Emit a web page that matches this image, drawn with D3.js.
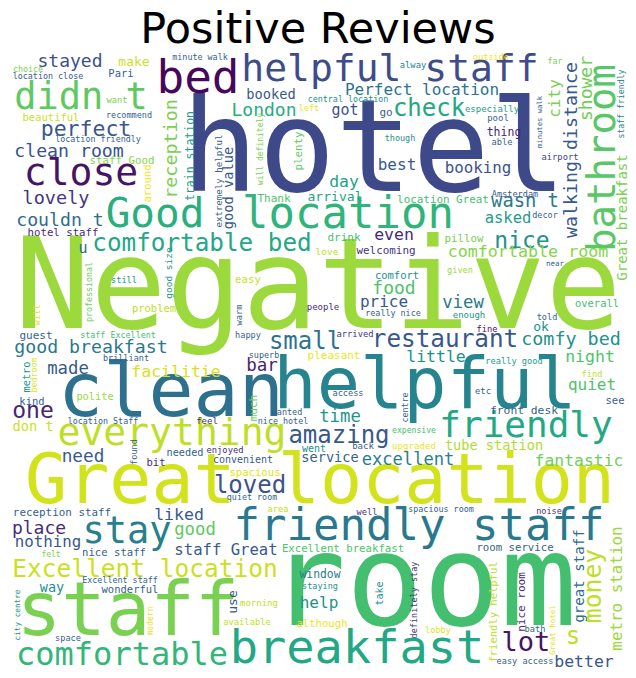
<!DOCTYPE html>
<html>
<head>
<meta charset="utf-8">
<script src="https://cdn.jsdelivr.net/npm/d3@7"></script>
<style>
  body { margin: 0; background: #fff; }
</style>
</head>
<body>
<div id="chart"></div>
<script>
// Word cloud layout: [word, weight, tone, x, y] in cloud units (620 x 620 canvas)
// horizontal words: x = centre, y = baseline
const bigWords = [
  ["Negative", 126, 0.85, 310, 276],
  ["hotel", 128, 0.22, 366, 139],
  ["room", 128, 0.70, 415, 573],
  ["Great location", 70, 0.93, 312, 451],
  ["helpful", 72, 0.45, 417, 356],
  ["clean", 75, 0.37, 163, 364],
  ["staff", 74, 0.80, 120, 583],
  ["friendly staff", 44, 0.40, 411, 488],
  ["breakfast", 47, 0.60, 349, 611],
  ["comfortable", 32, 0.66, 114, 613],
  ["Good", 41, 0.63, 147, 175],
  ["location", 44, 0.65, 340, 176],
  ["helpful staff", 38, 0.23, 382, 29],
  ["bed", 46, 0.02, 190, 41],
  ["didn t", 37, 0.75, 73, 57],
  ["close", 38, 0.05, 73, 133],
  ["everything", 38, 0.90, 164, 393],
  ["friendly", 36, 0.60, 518, 385],
  ["stay", 37, 0.43, 119, 491]
];

const midWords = [
  ["Excellent location", 24.5, 0.92, 137, 525],
  ["comfortable bed", 24.3, 0.60, 194, 199],
  ["amazing", 24, 0.27, 331, 391],
  ["small", 24, 0.38, 297, 297],
  ["restaurant", 24.3, 0.27, 437, 295],
  ["loved", 24, 0.25, 242, 441],
  ["check", 24, 0.60, 421, 64],
  ["nice", 23, 0.50, 514, 196],
  ["one", 23, 0.10, 25, 366],
  ["lot", 27, 0.05, 518, 599],
  ["s", 24, 0.90, 565, 592],
  ["perfect", 21.5, 0.27, 78, 84],
  ["wasn t", 18.8, 0.40, 517, 155],
  ["stayed", 18, 0.25, 62, 15],
  ["clean room", 18.2, 0.25, 61, 105],
  ["lovely", 18.5, 0.15, 48, 152],
  ["couldn t", 18.2, 0.35, 52, 174],
  ["good breakfast", 18.2, 0.40, 83, 301],
  ["comfy bed", 18.4, 0.50, 563, 293],
  ["London", 18, 0.62, 256, 64],
  ["food", 18, 0.72, 386, 242],
  ["place", 18, 0.12, 31, 482],
  ["made", 17.3, 0.28, 60, 322],
  ["need", 17.7, 0.28, 75, 410],
  ["view", 17.3, 0.40, 455, 256],
  ["time", 17.3, 0.52, 332, 370],
  ["bar", 17.5, 0.10, 254, 319],
  ["good", 17.3, 0.75, 187, 483],
  ["excellent", 17.1, 0.42, 400, 413],
  ["facilitie", 16.5, 0.94, 168, 325],
  ["Perfect location", 16, 0.38, 414, 43],
  ["comfortable room", 16.7, 0.82, 520, 205],
  ["little", 16.5, 0.50, 428, 310],
  ["night", 16.5, 0.72, 582, 310],
  ["quiet", 16, 0.72, 584, 338],
  ["fantastic", 16.4, 0.78, 571, 414],
  ["price", 16, 0.27, 376, 255],
  ["best", 16, 0.28, 389, 118],
  ["nothing", 15.8, 0.27, 40, 495],
  ["booking", 15.8, 0.25, 470, 121],
  ["liked", 16.5, 0.28, 171, 468],
  ["staff Great", 15.6, 0.28, 218, 503],
  ["help", 16, 0.50, 311, 556],
  ["better", 16.5, 0.27, 576, 615],
  ["day", 16.4, 0.58, 336, 135],
  ["even", 16.5, 0.12, 386, 188],
  ["asked", 15.5, 0.55, 500, 171],
  ["got", 15, 0.25, 337, 63],
  ["u", 15, 0.35, 75, 201]
];

const smallWords = [
  ["booked", 13.7, 0.28, 263, 47],
  ["don t", 13.7, 0.92, 25, 379],
  ["way", 13.5, 0.50, 44, 540],
  ["service", 13.6, 0.30, 322, 410],
  ["tube station", 13.6, 0.88, 486, 398],
  ["arrival", 13.1, 0.60, 327, 149],
  ["make", 13, 0.92, 126, 14],
  ["ok", 13, 0.50, 533, 279],
  ["thing", 11.5, 0.12, 496, 84],
  ["front desk", 11.3, 0.30, 516, 362],
  ["Thank", 11, 0.72, 266, 150],
  ["drink", 11, 0.70, 336, 189],
  ["pillow", 10.8, 0.80, 456, 190],
  ["welcoming", 10.9, 0.15, 378, 202],
  ["location Great", 10.9, 0.70, 435, 151],
  ["guest", 11, 0.30, 28, 287],
  ["pleasant", 11, 0.97, 326, 307],
  ["reception staff", 10.9, 0.30, 54, 464],
  ["window", 11.4, 0.42, 312, 526],
  ["Excellent breakfast", 10.7, 0.72, 335, 500],
  ["room service", 10.7, 0.30, 507, 499],
  ["nice staff", 10.6, 0.30, 106, 504],
  ["wonderful", 10.5, 0.30, 122, 541],
  ["spacious", 10.6, 0.95, 247, 424],
  ["although", 10.6, 0.97, 314, 575],
  ["beautiful", 10.5, 0.92, 43, 69],
  ["staff Good", 10.8, 0.82, 114, 112],
  ["hotel staff", 10.7, 0.12, 55, 184],
  ["Pari", 10.5, 0.30, 113, 25],
  ["problem", 10.5, 0.90, 146, 260],
  ["polite", 10.3, 0.85, 87, 348],
  ["kind", 10.5, 0.30, 24, 353],
  ["easy", 10.8, 0.92, 240, 231],
  ["comfort", 10.5, 0.50, 389, 227],
  ["overall", 10.5, 0.70, 589, 255],
  ["convenient", 10, 0.28, 235, 411],
  ["needed", 10.2, 0.30, 177, 404],
  ["bit", 10.5, 0.12, 148, 414],
  ["went", 10, 0.50, 306, 400],
  ["see", 10.5, 0.30, 607, 352],
  ["go", 11, 0.30, 378, 64],
  ["minute walk", 8.4, 0.30, 192, 8],
  ["choice", 8.4, 0.80, 20, 20],
  ["location close", 8.4, 0.28, 40, 27],
  ["want", 8.7, 0.80, 109, 51],
  ["recommend", 8.5, 0.30, 121, 66],
  ["location friendly", 8.4, 0.30, 90, 90],
  ["alway", 8.8, 0.45, 405, 16],
  ["outside", 8.5, 0.98, 483, 8],
  ["far", 8.2, 0.80, 547, 12],
  ["central location", 8.4, 0.50, 340, 50],
  ["left", 8.5, 0.97, 301, 59],
  ["especially", 9, 0.55, 484, 60],
  ["pool", 9, 0.30, 490, 69],
  ["able", 8.7, 0.30, 494, 93],
  ["though", 8.5, 0.50, 392, 89],
  ["airport", 8.8, 0.18, 552, 108],
  ["Amsterdam", 8.6, 0.30, 507, 145],
  ["decor", 8.5, 0.30, 537, 166],
  ["love", 9.5, 0.90, 319, 203],
  ["still", 8.6, 0.50, 116, 231],
  ["staff Excellent", 8.4, 0.70, 110, 286],
  ["brilliant", 8.5, 0.30, 118, 309],
  ["location Staff", 8.4, 0.30, 95, 372],
  ["feel", 9, 0.15, 199, 372],
  ["people", 9, 0.12, 315, 258],
  ["really nice", 8.4, 0.30, 385, 264],
  ["happy", 8.6, 0.30, 240, 286],
  ["arrived", 8.8, 0.15, 347, 285],
  ["superb", 8.5, 0.30, 256, 306],
  ["given", 8.6, 0.85, 452, 221],
  ["near", 7.5, 0.30, 547, 214],
  ["enough", 9, 0.50, 461, 266],
  ["told", 8.6, 0.35, 539, 268],
  ["fine", 8.7, 0.05, 479, 280],
  ["really good", 8.7, 0.55, 506, 312],
  ["find", 8.7, 0.90, 584, 325],
  ["etc", 8.8, 0.30, 475, 342],
  ["access", 8.6, 0.30, 340, 344],
  ["wanted", 8.5, 0.30, 279, 363],
  ["nice hotel", 8.4, 0.30, 275, 372],
  ["expensive", 8.1, 0.70, 406, 381],
  ["back", 9, 0.30, 355, 397],
  ["upgraded", 9.1, 0.97, 406, 397],
  ["enjoyed", 8.8, 0.12, 217, 401],
  ["quiet room", 8.4, 0.30, 244, 448],
  ["area", 8.7, 0.90, 270, 460],
  ["well", 8.7, 0.15, 359, 463],
  ["spacious room", 8.4, 0.30, 433, 460],
  ["noise", 8.5, 0.15, 541, 462],
  ["felt", 8, 0.80, 43, 505],
  ["Excellent staff", 8.4, 0.30, 112, 531],
  ["staying", 8.5, 0.50, 312, 537],
  ["morning", 9, 0.90, 251, 554],
  ["space", 8.6, 0.30, 60, 589],
  ["available", 8.8, 0.90, 239, 573],
  ["lobby", 8.6, 0.95, 430, 581],
  ["bath", 8.7, 0.30, 527, 580],
  ["easy access", 8.6, 0.30, 517, 612]
];

// vertical words (read bottom to top): x = baseline, y = centre
const sideWords = [
  ["bathroom", 39, 0.74, 607, 106],
  ["walking distance", 18.3, 0.28, 569, 98],
  ["reception", 18.4, 0.80, 169, 97],
  ["shower", 18, 0.78, 584, 36.5],
  ["city", 16, 0.80, 552, 46.5],
  ["train station", 11.5, 0.55, 186, 104],
  ["around", 10.5, 0.98, 143, 131.5],
  ["Great breakfast", 14, 0.80, 619, 165.5],
  ["staff friendly", 8.2, 0.45, 616, 52],
  ["minutes walk", 7.2, 0.30, 534, 70],
  ["extremely helpful", 9.1, 0.30, 214, 129],
  ["good value", 13.7, 0.27, 225, 136],
  ["plenty", 10.8, 0.75, 294, 99],
  ["will definitely", 8, 0.80, 255, 97],
  ["professional", 8.3, 0.78, 84, 240],
  ["good size", 9.5, 0.50, 164, 221],
  ["will", 8.7, 0.95, 32, 263],
  ["metro", 10.3, 0.55, 22, 325],
  ["bedroom", 8.3, 0.95, 29, 323],
  ["warm", 8.7, 0.30, 234, 263],
  ["centre", 8.3, 0.30, 400, 355.5],
  ["much", 11, 0.78, 249, 356],
  ["found", 8.6, 0.30, 129, 400],
  ["city centre", 7.7, 0.50, 12, 563],
  ["modern", 8, 0.95, 145, 569],
  ["use", 13, 0.28, 229, 550],
  ["take", 10, 0.50, 375, 541.5],
  ["definitely stay", 8.5, 0.15, 409, 548],
  ["great staff", 14.1, 0.35, 576, 524],
  ["money", 24.7, 0.90, 593, 534],
  ["metro station", 15.9, 0.85, 614, 536.5],
  ["friendly helpful", 10.5, 0.90, 489, 560],
  ["nice room", 11, 0.12, 517, 550],
  ["Great hotel", 7.5, 0.95, 547, 578]
];

const title = "Positive Reviews";

const width = 636, height = 678;

const svg = d3.select("#chart").append("svg")
  .attr("width", width)
  .attr("height", height)
  .style("display", "block");

svg.append("rect")
  .attr("width", width)
  .attr("height", height)
  .attr("fill", "#fff");

svg.append("text")
  .attr("x", width / 2)
  .attr("y", 43)
  .attr("text-anchor", "middle")
  .style("font-family", "'DejaVu Sans', sans-serif")
  .style("font-size", "43px")
  .style("fill", "#000")
  .text(title);

// cloud canvas -> page
const x = d3.scaleLinear().domain([0, 620]).range([8, 628]);
const y = d3.scaleLinear().domain([0, 620]).range([52, 672]);
const fontSize = d3.scaleLinear().domain([0, 620]).range([0, 620]);
const colour = d3.scaleSequential(d3.interpolateViridis).domain([0, 1]);

const cloud = svg.append("g")
  .style("font-family", "'DejaVu Sans Mono', monospace");

const flat = bigWords.concat(midWords, smallWords);

cloud.selectAll("text.h")
  .data(flat)
  .join("text")
  .attr("class", "h")
  .attr("text-anchor", "middle")
  .attr("transform", d => `translate(${x(d[3])},${y(d[4])})`)
  .style("font-size", d => fontSize(d[1]) + "px")
  .style("fill", d => colour(d[2]))
  .text(d => d[0]);

cloud.selectAll("text.v")
  .data(sideWords)
  .join("text")
  .attr("class", "v")
  .attr("text-anchor", "middle")
  .attr("transform", d => `translate(${x(d[3])},${y(d[4])}) rotate(-90)`)
  .style("font-size", d => fontSize(d[1]) + "px")
  .style("fill", d => colour(d[2]))
  .text(d => d[0]);
</script>
</body>
</html>
